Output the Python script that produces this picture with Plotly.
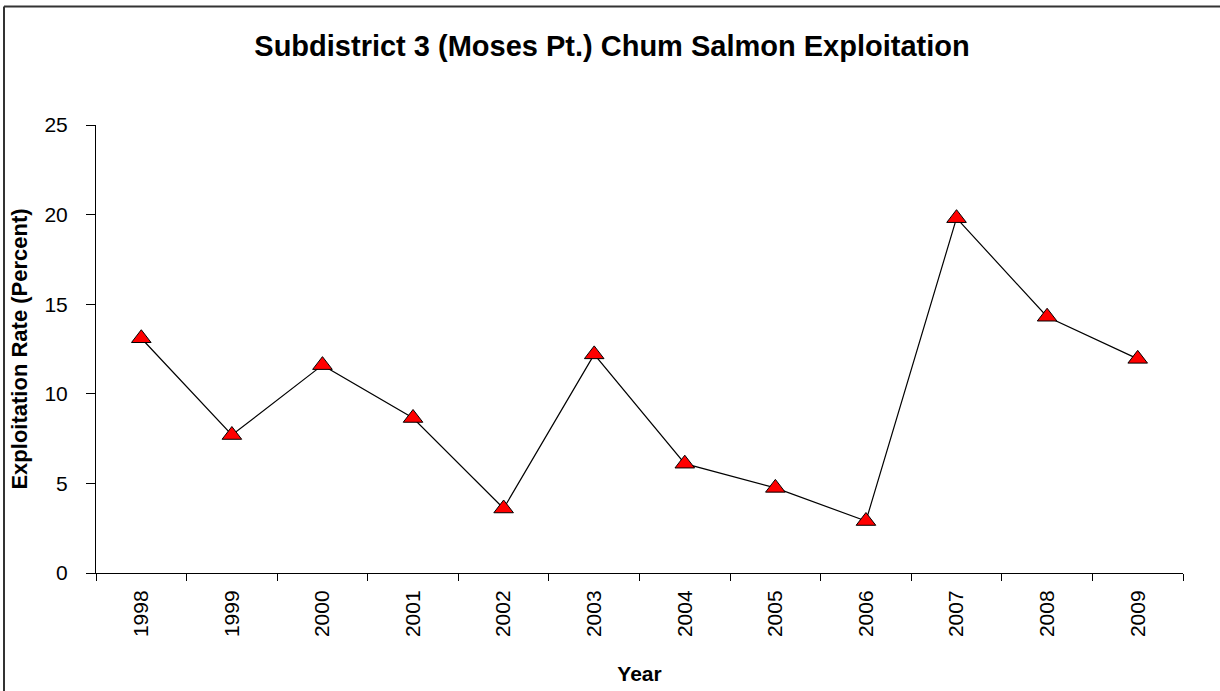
import plotly.graph_objects as go

# Datos
anios = ["1998", "1999", "2000", "2001", "2002", "2003",
         "2004", "2005", "2006", "2007", "2008", "2009"]
tasa_explotacion = [13.1, 7.7, 11.6, 8.65, 3.6, 12.2,
                    6.1, 4.75, 2.9, 19.8, 14.3, 11.95]
ticks_y = [0, 5, 10, 15, 20, 25]

FUENTE = "Liberation Sans, Arial, sans-serif"

# Margenes en pixeles del area de trazado
ML, MR, MT, MB = 96, 37, 125, 118
ANCHO, ALTO = 1220, 691
ancho_plot = ANCHO - ML - MR
alto_plot = ALTO - MT - MB

fig = go.Figure()

fig.add_trace(go.Scatter(
    x=anios,
    y=tasa_explotacion,
    mode="lines+markers",
    line=dict(color="black", width=1.2),
    marker=dict(symbol="triangle-up", size=17, color="#ff0000",
                line=dict(color="black", width=1)),
    showlegend=False,
    cliponaxis=False
))

fig.update_layout(
    width=ANCHO,
    height=ALTO,
    margin=dict(l=ML, r=MR, t=MT, b=MB),
    paper_bgcolor="white",
    plot_bgcolor="white",
    font=dict(family=FUENTE, color="black"),
    title=dict(
        text="<b>Subdistrict 3 (Moses Pt.) Chum Salmon Exploitation</b>",
        x=612 / ANCHO, xanchor="center",
        y=1 - 46 / ALTO, yanchor="middle",
        font=dict(size=29, family=FUENTE, color="black")
    )
)

fig.update_xaxes(
    type="category",
    range=[-0.5, len(anios) - 0.5],
    automargin=False,
    showline=True, linecolor="black", linewidth=1,
    ticks="outside", tickson="boundaries", ticklen=7,
    tickcolor="black", tickwidth=1,
    tickangle=-90, ticklabelstandoff=8,
    tickfont=dict(size=21, family=FUENTE),
    showgrid=False,
    title=dict(text="<b>Year</b>", font=dict(size=21, family=FUENTE), standoff=30)
)

fig.update_yaxes(
    range=[0, 25],
    tickvals=ticks_y,
    automargin=False,
    showline=True, linecolor="black", linewidth=1,
    ticks="outside", ticklen=9, tickcolor="black", tickwidth=1,
    ticklabelstandoff=14,
    tickfont=dict(size=21, family=FUENTE),
    showgrid=False, zeroline=False,
    title=dict(text="<b>Exploitation Rate (Percent)</b>",
               font=dict(size=22, family=FUENTE), standoff=10)
)

# Borde del area del grafico (estilo Excel), en pixeles -> coordenadas paper
def px_a_x(px):
    return (px - ML) / ancho_plot

def px_a_y(py):
    return (ALTO - MB - py) / alto_plot

borde = dict(color="#333333", width=2)
fig.add_shape(type="line", xref="paper", yref="paper",
              x0=px_a_x(4), x1=px_a_x(ANCHO + 20), y0=px_a_y(6.5), y1=px_a_y(6.5),
              line=borde, layer="above")
fig.add_shape(type="line", xref="paper", yref="paper",
              x0=px_a_x(4), x1=px_a_x(4), y0=px_a_y(6.5), y1=px_a_y(ALTO + 20),
              line=borde, layer="above")

# Sin margen en el body para que la figura quede en (0, 0)
fig.write_html("out.html", config={"displayModeBar": False},
               post_script="document.body.style.margin='0';")
